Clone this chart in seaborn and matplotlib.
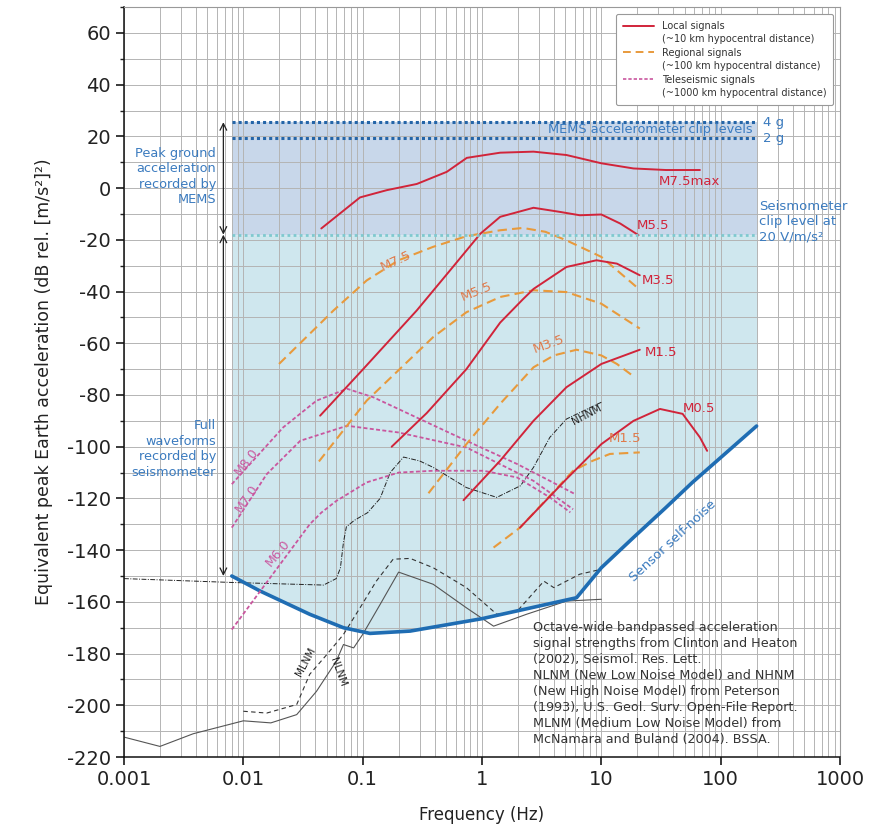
import numpy as np
import seaborn as sns
import matplotlib.pyplot as plt
from matplotlib.lines import Line2D
from matplotlib.ticker import MultipleLocator, LogLocator, NullFormatter

sns.set_theme(style="ticks")
plt.rcParams['font.family'] = ['DejaVu Sans']
plt.rcParams['axes.unicode_minus'] = False

# Sensor self-noise (Hz, dB)
sensor_f = [0.008, 0.0138, 0.036, 0.069, 0.115, 0.25, 1.0, 6.2, 10, 18.6, 34.8, 58, 200]
sensor_db = [-150, -155.8, -164.8, -170, -172.2, -171.3, -166.5, -158.4, -146.8, -135.1, -123.5, -113.8, -92]

# Clip levels (dB)
clip_4g = 25.5
clip_2g = 19.5
clip_seis = -18

# Local signals (red, solid)
local = {
    "M7.5max": ([0.045, 0.095, 0.159, 0.284, 0.507, 0.746, 1.42, 2.7, 5.1, 10, 18.6, 34.8, 67],
                [-15.6, -3.6, -0.8, 1.6, 6.3, 11.7, 13.7, 14.1, 12.8, 9.6, 7.6, 7.0, 7.0]),
    "M5.5": ([0.044, 0.1, 0.284, 0.54, 0.97, 1.42, 2.7, 4.5, 6.6, 10, 14.4, 20.5],
             [-88, -70.2, -47.3, -31.8, -17.6, -11.1, -7.6, -9.2, -10.5, -10.2, -13.7, -18.2]),
    "M3.5": ([0.175, 0.344, 0.74, 1.42, 2.2, 2.7, 5.1, 9.1, 13.5, 21],
             [-100, -87, -70, -52, -43, -39, -30.5, -27.9, -29.2, -33.7]),
    "M1.5": ([0.70, 1.42, 2.7, 5.1, 10, 21],
             [-120.7, -105.4, -90, -77, -68, -62.5]),
    "M0.5": ([2.08, 5.1, 10, 18.6, 31, 48, 67, 77],
             [-131.3, -112.5, -99, -90, -85.4, -87.3, -96.4, -101.6]),
}
local_label_pos = {"M7.5max": (30.5, 2.4), "M5.5": (19.8, -14.3), "M3.5": (21.9, -35.7),
                   "M1.5": (23.3, -63.4), "M0.5": (48.5, -85.3)}

# Regional signals (orange, dashed)
regional = {
    "M7.5": ([0.0199, 0.057, 0.108, 0.2, 0.39, 0.74, 1.42, 2.2, 3.4, 5.1, 10, 20.5],
             [-68, -47.3, -35.7, -27.9, -22.7, -18.6, -16.3, -15.4, -16.9, -20.2, -26.6, -38.9]),
    "M5.5": ([0.043, 0.108, 0.39, 0.74, 1.42, 2.7, 5.1, 10, 21],
             [-105.7, -82.2, -57.6, -48, -42.1, -39.5, -40.2, -44.7, -54.3]),
    "M3.5": ([0.356, 0.74, 1.42, 2.7, 4.0, 6.2, 10, 13.5, 19],
             [-118, -99, -83.4, -69.3, -64.7, -62.5, -64.7, -68, -73.1]),
    "M1.5": ([1.25, 2.08, 3.5, 5.8, 8.5, 11.8, 21],
             [-139, -131.3, -120.2, -109.3, -105.4, -102.8, -102.2]),
}
regional_label_pos = {"M7.5": (0.19, -28, 25), "M5.5": (0.9, -40, 22),
                      "M3.5": (3.6, -60.5, 20), "M1.5": (15.9, -97, 0)}

# Teleseismic signals (magenta, dashed)
tele = {
    "M8.0": ([0.008, 0.0216, 0.041, 0.074, 0.123, 0.28, 0.74, 1.97, 3.7, 6.0],
             [-114.5, -92.5, -82.2, -77.6, -80.9, -88.6, -97.7, -106.7, -113.2, -118.3]),
    "M7.0": ([0.008, 0.0157, 0.03, 0.074, 0.2, 0.74, 2.7, 5.8],
             [-131.3, -110.6, -97.7, -91.9, -94.5, -100.3, -113.2, -124.2]),
    "M6.0": ([0.008, 0.036, 0.045, 0.06, 0.108, 0.2, 0.39, 1.03, 1.97, 3.7, 5.5],
             [-170.7, -130, -125.5, -121, -113.8, -110, -109.3, -109.3, -111.9, -119.6, -125.4]),
}
tele_label_pos = {"M8.0": (0.0107, -106, 52), "M7.0": (0.0107, -120, 55), "M6.0": (0.0195, -141, 50)}

# Noise models
nhnm_f = [0.001, 0.008, 0.047, 0.06, 0.065, 0.069, 0.073, 0.085, 0.11, 0.14, 0.17, 0.22, 0.3,
          0.39, 0.74, 1.33, 2.1, 2.7, 3.7, 5.1, 10]
nhnm_db = [-151, -152.5, -153.5, -151, -147, -137, -131, -128.5, -125.5, -120, -110, -104, -105.5,
           -108, -115.8, -119.6, -115.1, -108, -96.4, -89.3, -82.8]
nlnm_f = [0.001, 0.002, 0.0038, 0.01, 0.017, 0.028, 0.041, 0.06, 0.069, 0.084, 0.1, 0.14, 0.2,
          0.39, 0.74, 1.25, 2.36, 5.1, 10]
nlnm_db = [-212.3, -215.9, -211, -206, -206.8, -203.6, -194.6, -183, -176.5, -177.8, -172.6, -161,
           -148.5, -153.2, -162.3, -169.4, -164.8, -159.7, -159]
mlnm_f = [0.01, 0.0157, 0.028, 0.036, 0.05, 0.069, 0.095, 0.13, 0.18, 0.25, 0.39, 0.74, 1.33,
          1.97, 3.3, 4.0, 6.6, 10]
mlnm_db = [-202.3, -203, -199.7, -188, -180.4, -172.6, -162.3, -152, -143.5, -143.2, -146.8,
           -154.5, -164.8, -163.6, -152, -154.5, -149.3, -147.4]

red = "#d1243a"
orange = "#e89a3c"
magenta = "#c9569e"
blue = "#1f6db3"
txtblue = "#3b7bbf"

fig = plt.figure(figsize=(8.74, 8.25), dpi=100)
ax = fig.add_axes([0.1419, 0.0824, 0.8192, 0.909])
ax.set_xscale("log")
ax.set_xlim(0.001, 1000)
ax.set_ylim(-220, 70)

# Shaded ranges
ax.fill_between([sensor_f[0], sensor_f[-1]], clip_seis, clip_4g, color="#c8d7ea", lw=0, zorder=0.2)
ax.fill_between(sensor_f, sensor_db, clip_seis, color="#cfe7ee", lw=0, zorder=0.2)

# Grid
ax.xaxis.set_minor_locator(LogLocator(base=10, subs=np.arange(2, 10)))
ax.xaxis.set_minor_formatter(NullFormatter())
ax.yaxis.set_major_locator(MultipleLocator(20))
ax.yaxis.set_minor_locator(MultipleLocator(10))
ax.set_axisbelow(True)
ax.grid(which="both", color="#b4b4b4", lw=0.7)

# Clip lines
ax.plot([sensor_f[0], 200], [clip_4g] * 2, ls=(0, (1, 1)), color="#2465a8", lw=2.2, zorder=3)
ax.plot([sensor_f[0], 200], [clip_2g] * 2, ls=(0, (1, 1)), color="#2465a8", lw=2.2, zorder=3)
ax.plot([sensor_f[0], 200], [clip_seis] * 2, ls=(0, (1, 1.2)), color="#7fc9cf", lw=2, zorder=3)

# Noise models
sns.lineplot(x=nlnm_f, y=nlnm_db, ax=ax, color="#555555", lw=0.8, estimator=None, sort=False)
sns.lineplot(x=mlnm_f, y=mlnm_db, ax=ax, color="#333333", lw=0.8, ls=(0, (4, 3)), estimator=None, sort=False)
sns.lineplot(x=nhnm_f, y=nhnm_db, ax=ax, color="#222222", lw=0.7, ls=(0, (5, 1.5, 1, 1.5)), estimator=None, sort=False)

# Sensor self-noise
sns.lineplot(x=sensor_f, y=sensor_db, ax=ax, color=blue, lw=2.6, estimator=None, sort=False)

for name, (f, db) in tele.items():
    sns.lineplot(x=f, y=db, ax=ax, color=magenta, lw=1.3, ls=(0, (2.2, 1.3)), estimator=None, sort=False)
    lx, ly, rot = tele_label_pos[name]
    ax.text(lx, ly, name, color=magenta, fontsize=9, rotation=rot, ha="center", va="center")

for name, (f, db) in regional.items():
    sns.lineplot(x=f, y=db, ax=ax, color=orange, lw=1.5, ls=(0, (4.5, 2.5)), estimator=None, sort=False)
    lx, ly, rot = regional_label_pos[name]
    ax.text(lx, ly, name, color="#e07a4a", fontsize=9.5, rotation=rot, ha="center", va="center")

for name, (f, db) in local.items():
    sns.lineplot(x=f, y=db, ax=ax, color=red, lw=1.4, estimator=None, sort=False)
    lx, ly = local_label_pos[name]
    ax.text(lx, ly, name, color=red, fontsize=9.5, ha="left", va="center")

# Noise model labels
ax.text(7.6, -87.5, "NHNM", fontsize=7.5, rotation=28, ha="center", va="center", color="#222")
ax.text(0.033, -183, "MLNM", fontsize=7.5, rotation=62, ha="center", va="center", color="#222")
ax.text(0.062, -187, "NLNM", fontsize=7.5, rotation=-70, ha="center", va="center", color="#222")
ax.text(40, -136.5, "Sensor self-noise", fontsize=9.5, rotation=43, ha="center", va="center", color=txtblue)

# Arrows
arrow = dict(arrowstyle="<->", color="#222222", lw=0.9, shrinkA=0, shrinkB=0, mutation_scale=12)
ax.annotate("", xy=(0.0068, clip_4g), xytext=(0.0068, clip_seis), arrowprops=arrow)
ax.annotate("", xy=(0.0068, clip_seis), xytext=(0.0068, sensor_db[0]), arrowprops=arrow)

ax.text(0.0059, 4.4, "Peak ground\nacceleration\nrecorded by\nMEMS", color=txtblue, fontsize=9.3,
        ha="right", va="center", linespacing=1.25)
ax.text(0.0059, -100.8, "Full\nwaveforms\nrecorded by\nseismometer", color=txtblue, fontsize=9.3,
        ha="right", va="center", linespacing=1.25)
ax.text(184, 22.6, "MEMS accelerometer clip levels", color=txtblue, fontsize=9.3, ha="right", va="center")
ax.text(227, clip_4g, "4 g", color=txtblue, fontsize=9.5, ha="left", va="center")
ax.text(227, clip_2g - 0.5, "2 g", color=txtblue, fontsize=9.5, ha="left", va="center")
ax.text(210, -13, "Seismometer\nclip level at\n20 V/m/s\u00b2", color=txtblue, fontsize=9.5,
        ha="left", va="center", linespacing=1.25)

ax.text(2.7, -191.5, "Octave-wide bandpassed acceleration\nsignal strengths from Clinton and Heaton\n"
        "(2002), Seismol. Res. Lett.\nNLNM (New Low Noise Model) and NHNM\n"
        "(New High Noise Model) from Peterson\n(1993), U.S. Geol. Surv. Open-File Report.\n"
        "MLNM (Medium Low Noise Model) from\nMcNamara and Buland (2004). BSSA.",
        fontsize=9.2, color="#333333", ha="left", va="center", linespacing=1.3)

# Legend
blank = Line2D([], [], color="none")
handles = [Line2D([], [], color=red, lw=1.4), blank,
           Line2D([], [], color=orange, lw=1.4, ls=(0, (4, 2.5))), blank,
           Line2D([], [], color=magenta, lw=1.2, ls=(0, (2, 1.2))), blank]
labels = ["Local signals", "(~10 km hypocentral distance)", "Regional signals",
          "(~100 km hypocentral distance)", "Teleseismic signals", "(~1000 km hypocentral distance)"]
leg = ax.legend(handles, labels, loc="upper right", bbox_to_anchor=(0.997, 0.997), fontsize=7,
                labelspacing=0.35, handlelength=3.2, frameon=True, fancybox=True, framealpha=1,
                edgecolor="#999999", borderpad=0.7, labelcolor="#333333")
leg.get_frame().set_linewidth(0.8)

# Axes and ticks
ax.set_xticks([0.001, 0.01, 0.1, 1, 10, 100, 1000],
              labels=["0.001", "0.01", "0.1", "1", "10", "100", "1000"])
ax.set_yticks(np.arange(-220, 61, 20))
ax.tick_params(axis="both", which="major", labelsize=14, length=6, color="#222", labelcolor="#222")
ax.tick_params(axis="y", which="minor", length=3, color="#222")
ax.tick_params(axis="x", which="minor", length=0)
ax.set_xlabel("Frequency (Hz)", fontsize=12, color="#222", labelpad=12)
ax.set_ylabel("Equivalent peak Earth acceleration (dB rel. [m/s\u00b2]\u00b2)", fontsize=12.5,
              color="#222", labelpad=10)
for s in ["left", "bottom"]:
    ax.spines[s].set_color("#111")
    ax.spines[s].set_linewidth(1.1)
for s in ["top", "right"]:
    ax.spines[s].set_color("#999")
    ax.spines[s].set_linewidth(0.8)

fig.savefig("out.png", dpi=100)
